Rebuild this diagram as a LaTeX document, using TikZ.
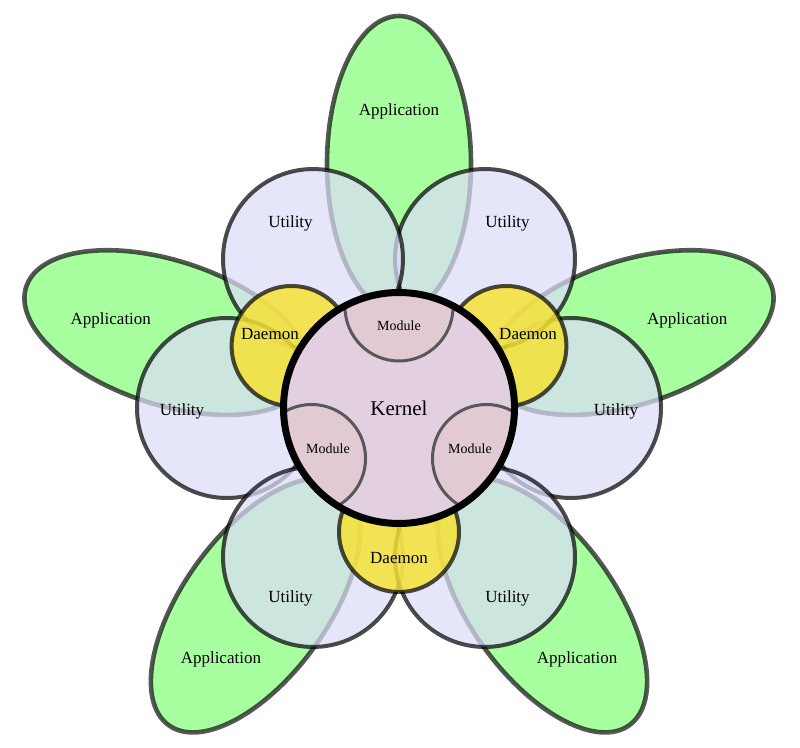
\documentclass[tikz,border=0pt]{standalone}
\usepackage{fontspec}
\setmainfont{Liberation Serif}
\definecolor{appgreen}{RGB}{168,255,160}
\definecolor{utilfill}{RGB}{220,220,248}
\definecolor{daemonfill}{RGB}{246,226,52}
\definecolor{kernelfill}{RGB}{226,208,224}
\definecolor{modulefill}{RGB}{226,202,212}
\definecolor{modline}{RGB}{88,88,88}
\tikzset{
  appshape/.style={fill=appgreen, draw=black, draw opacity=0.66, line width=4.6pt},
  utilshape/.style={fill=utilfill, fill opacity=0.72, draw=black, draw opacity=0.7, line width=4pt},
  daemonshape/.style={fill=daemonfill, fill opacity=0.84, draw=black, draw opacity=0.7, line width=4pt},
  kernelline/.style={draw=black, line width=7pt},
  moduleshape/.style={fill=modulefill, draw=modline, line width=3pt},
  lbl/.style={font=\fontsize{17}{19}\selectfont, inner sep=0pt, text=black},
  modlbl/.style={font=\fontsize{14}{16}\selectfont, inner sep=0pt, text=black},
  kernlbl/.style={font=\fontsize{21}{24}\selectfont, inner sep=0pt, text=black}
}
\begin{document}
\begin{tikzpicture}[x=1pt,y=1pt]
\useasboundingbox (0,0) rectangle (800,747);
\begin{scope}[shift={(399,339)}]
  % applications
  \foreach \a in {90,162,234,306,18}
    \draw[appshape, rotate=\a] (244,0) ellipse [x radius=148, y radius=72];
  % utilities
  \foreach \a in {0,60,120,180,240,300}
    \draw[utilshape] (\a:172) circle [radius=90];
  % daemons
  \foreach \a in {30,150,270}
    \draw[daemonshape] (\a:124) circle [radius=60];
  % kernel
  \fill[kernelfill] (0,0) circle [radius=115.5];
  \begin{scope}
    \clip (0,0) circle [radius=115.5];
    \foreach \a in {90,210,330}
      \draw[moduleshape] (\a:101) circle [radius=54];
  \end{scope}
  \draw[kernelline] (0,0) circle [radius=115.5];
  % labels
  \foreach \a [count=\i] in {90,162,234,306,18}
    \node[lbl, yshift=-6.5pt] (app\i) at (\a:303) {Application};
  \foreach \a [count=\i] in {0,60,120,180,240,300}
    \node[lbl, yshift=-3pt] (util\i) at (\a:217) {Utility};
  \foreach \a [count=\i] in {30,150,270}
    \node[lbl, yshift=-1pt] (daemon\i) at (\a:149) {Daemon};
  \foreach \a [count=\i] in {90,210,330}
    \node[modlbl] (module\i) at (\a:82) {Module};
  \node[kernlbl] (kernel) at (0,0) {Kernel};
\end{scope}
\end{tikzpicture}
\end{document}
